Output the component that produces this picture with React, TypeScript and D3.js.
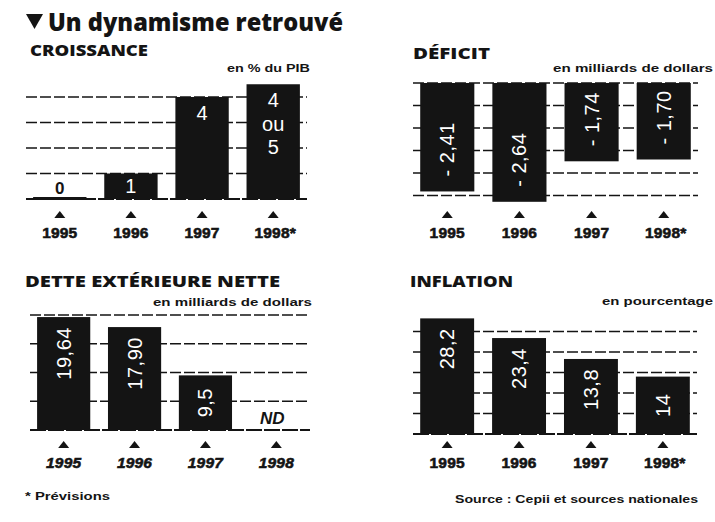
import { scaleBand, scaleLinear, select } from 'd3';
import React, { useEffect, useRef } from 'react';

// Categories
const years = ['1995', '1996', '1997', '1998*'];
const detteYears = ['1995', '1996', '1997', '1998'];

// Croissance (en % du PIB) - 1998 is "4 ou 5", drawn at 4.5
const croissanceValues = [0, 1, 4, 4.5];
const croissanceLabels = [['0'], ['1'], ['4'], ['4', 'ou', '5']];
const croissanceGrid = [0, 1, 2, 3, 4];

// Deficit (en milliards de dollars)
const deficitValues = [2.41, 2.64, 1.74, 1.7];
const deficitLabels = ['- 2,41', '- 2,64', '- 1,74', '- 1,70'];
const deficitGrid = [0, 0.5, 1, 1.5, 2, 2.5];

// Dette exterieure nette (en milliards de dollars)
const detteValues = [19.64, 17.9, 9.5, null];
const detteLabels = ['19,64', '17,90', '9,5', 'ND'];
const detteGrid = [0, 5, 10, 15, 20];

// Inflation (en pourcentage) - bar heights as drawn in the original
const inflationValues = [28.2, 23.4, 18.3, 14];
const inflationLabels = ['28,2', '23,4', '13,8', '14'];
const inflationGrid = [0, 5, 10, 15, 20, 25];

const INK = '#141414';
const TITLE_FONT = '"Open Sans", "DejaVu Sans", sans-serif';
const NUM_FONT = '"Liberation Sans", Arial, sans-serif';

type Mode = 'flat' | 'top' | 'hang';

interface PanelConfig {
  key: string;
  years: string[];
  values: Array<number | null>;
  labels: Array<string | string[]>;
  grid: number[];
  max: number;
  xRange: [number, number];
  yRange: [number, number];
  mode: Mode;
  markerY: number;
  italic?: boolean;
}

const panels: PanelConfig[] = [
  {
    key: 'croissance',
    years,
    values: croissanceValues,
    labels: croissanceLabels,
    grid: croissanceGrid,
    max: 4,
    xRange: [26, 307],
    yRange: [199, 97],
    mode: 'flat',
    markerY: 211,
  },
  {
    key: 'deficit',
    years,
    values: deficitValues,
    labels: deficitLabels,
    grid: deficitGrid,
    max: 2.5,
    xRange: [413, 698],
    yRange: [83, 195.5],
    mode: 'hang',
    markerY: 211,
  },
  {
    key: 'dette',
    years: detteYears,
    values: detteValues,
    labels: detteLabels,
    grid: detteGrid,
    max: 20,
    xRange: [30, 310],
    yRange: [430, 315],
    mode: 'top',
    markerY: 441,
    italic: true,
  },
  {
    key: 'inflation',
    years,
    values: inflationValues,
    labels: inflationLabels,
    grid: inflationGrid,
    max: 25,
    xRange: [413, 697],
    yRange: [434, 331.5],
    mode: 'top',
    markerY: 441,
  },
];

const texts = [
  { t: 'CROISSANCE', x: 30, y: 56, size: 15, w: 118, anchor: 'start' },
  { t: 'en % du PIB', x: 310, y: 72, size: 10.5, w: 83, anchor: 'end' },
  { t: 'DÉFICIT', x: 413, y: 59, size: 15, w: 77, anchor: 'start' },
  { t: 'en milliards de dollars', x: 713, y: 72, size: 11, w: 160, anchor: 'end' },
  { t: 'DETTE EXTÉRIEURE NETTE', x: 25, y: 287, size: 15, w: 255, anchor: 'start' },
  { t: 'en milliards de dollars', x: 312, y: 306, size: 11, w: 159, anchor: 'end' },
  { t: 'INFLATION', x: 410, y: 287, size: 15, w: 103, anchor: 'start' },
  { t: 'en pourcentage', x: 713, y: 305, size: 11, w: 111, anchor: 'end' },
  { t: '* Prévisions', x: 25, y: 500, size: 11, w: 85, anchor: 'start' },
  { t: 'Source : Cepii et sources nationales', x: 455, y: 503, size: 11, w: 243, anchor: 'start' },
];

function drawPanel(svg: any, p: PanelConfig) {
  const g = svg.selectAll(`g.${p.key}`).data([0]).join('g').attr('class', p.key);

  const x = scaleBand<string>()
    .domain(p.years)
    .range(p.xRange)
    .paddingInner(0.25)
    .paddingOuter(0.1);
  const y = scaleLinear().domain([0, p.max]).range(p.yRange);

  // gridlines
  g.selectAll('.grid')
    .data(p.grid)
    .join('line')
    .attr('class', 'grid')
    .attr('x1', p.xRange[0])
    .attr('x2', p.xRange[1])
    .attr('y1', (d: number) => y(d))
    .attr('y2', (d: number) => y(d))
    .attr('stroke', INK)
    .attr('stroke-width', (d: number) => (d === 0 && p.mode !== 'hang' ? 2 : 1.4))
    .attr('stroke-dasharray', (d: number) => (d === 0 && p.mode !== 'hang' ? '16 2' : '11 3'));

  const rows = p.years.map((year, i) => ({ year, v: p.values[i], label: p.labels[i] }));
  const withBars = rows.filter((d) => d.v !== null) as Array<{ year: string; v: number; label: any }>;

  const barTop = (d: { v: number }) => Math.min(y(0), y(d.v));
  const barH = (d: { v: number }) => Math.max(3, Math.abs(y(d.v) - y(0)));

  g.selectAll('.bar')
    .data(withBars)
    .join('rect')
    .attr('class', 'bar')
    .attr('x', (d: any) => x(d.year)!)
    .attr('width', x.bandwidth())
    .attr('y', (d: any) => (d.v === 0 ? y(0) - 2 : barTop(d)))
    .attr('height', barH)
    .attr('fill', INK);

  // value labels
  if (p.mode === 'flat') {
    rows.forEach((d) => {
      const lines = d.label as string[];
      const cx = x(d.year)! + x.bandwidth() / 2;
      const top = y(d.v as number);
      const h = y(0) - top;
      const zero = d.v === 0;
      const base = zero ? y(0) - 5 : top + Math.min(23, h / 2 + 7);
      g.append('text')
        .attr('x', cx)
        .attr('y', base)
        .attr('text-anchor', 'middle')
        .attr('font-family', NUM_FONT)
        .attr('font-weight', zero ? 'bold' : 'normal')
        .attr('font-size', zero ? 17 : 20)
        .attr('fill', zero ? INK : '#fff')
        .selectAll('tspan')
        .data(lines)
        .join('tspan')
        .attr('x', cx)
        .attr('dy', (_: string, j: number) => (j === 0 ? 0 : 23.5))
        .text((s: string) => s);
    });
  } else {
    rows.forEach((d) => {
      const cx = x(d.year)! + x.bandwidth() / 2;
      if (d.v === null) {
        g.append('text')
          .attr('x', cx - 4)
          .attr('y', y(0) - 6)
          .attr('text-anchor', 'middle')
          .attr('font-family', NUM_FONT)
          .attr('font-weight', 'bold')
          .attr('font-style', 'italic')
          .attr('font-size', 17)
          .attr('fill', INK)
          .text(d.label as string);
        return;
      }
      const v = d.v as number;
      let ay: number;
      let anchor: string;
      if (p.mode === 'hang') {
        ay = y(v) - 15;
        anchor = 'start';
      } else {
        const h = y(0) - y(v);
        if (h < 60) {
          ay = (y(0) + y(v)) / 2;
          anchor = 'middle';
        } else {
          ay = y(v) + 10;
          anchor = 'end';
        }
      }
      g.append('text')
        .attr('transform', `translate(${cx}, ${ay}) rotate(-90)`)
        .attr('text-anchor', anchor)
        .attr('dominant-baseline', 'central')
        .attr('font-family', NUM_FONT)
        .attr('font-size', 20)
        .attr('letter-spacing', 0.5)
        .attr('fill', '#fff')
        .text(d.label as string);
    });
  }

  // markers and year labels
  g.selectAll('.marker')
    .data(p.years)
    .join('path')
    .attr('class', 'marker')
    .attr('d', (d: string) => {
      const cx = x(d)! + x.bandwidth() / 2;
      return `M${cx - 5.5},${p.markerY + 7}L${cx + 5.5},${p.markerY + 7}L${cx},${p.markerY}Z`;
    })
    .attr('fill', INK);

  g.selectAll('.year')
    .data(p.years)
    .join('text')
    .attr('class', 'year')
    .attr('x', (d: string) => x(d)! + x.bandwidth() / 2 + (d.endsWith('*') ? 2 : 0))
    .attr('y', p.markerY + 27)
    .attr('text-anchor', 'middle')
    .attr('font-family', NUM_FONT)
    .attr('font-weight', 'bold')
    .attr('font-style', p.italic ? 'italic' : 'normal')
    .attr('font-size', 15.5)
    .attr('letter-spacing', 0.2)
    .attr('stroke', INK)
    .attr('stroke-width', 0.6)
    .attr('fill', INK)
    .text((d: string) => d);
}

const App: React.FC = () => {
  const svgRef = useRef<SVGSVGElement>(null);

  useEffect(() => {
    const svg = select(svgRef.current);
    svg.selectAll('*').remove();

    svg
      .append('rect')
      .attr('width', 715)
      .attr('height', 522)
      .attr('fill', '#fff');

    // main title
    svg
      .append('path')
      .attr('d', 'M26,14L43,14L34.5,29Z')
      .attr('fill', INK);
    svg
      .append('text')
      .attr('x', 48)
      .attr('y', 31)
      .attr('font-family', TITLE_FONT)
      .attr('font-weight', 800)
      .attr('font-size', 25)
      .attr('textLength', 295)
      .attr('lengthAdjust', 'spacingAndGlyphs')
      .attr('fill', INK)
      .text('Un dynamisme retrouvé');

    texts.forEach((t) => {
      svg
        .append('text')
        .attr('x', t.x)
        .attr('y', t.y)
        .attr('text-anchor', t.anchor)
        .attr('font-family', t.size > 12 ? TITLE_FONT : NUM_FONT)
        .attr('font-weight', t.size > 12 ? 800 : 'bold')
        .attr('font-size', t.size)
        .attr('textLength', t.w)
        .attr('lengthAdjust', 'spacingAndGlyphs')
        .attr('fill', INK)
        .text(t.t);
    });

    panels.forEach((p) => drawPanel(svg, p));
  }, []);

  return (
    <svg
      ref={svgRef}
      width={715}
      height={522}
      style={{ position: 'absolute', left: 0, top: 0, display: 'block' }}
    />
  );
};

export default App;
